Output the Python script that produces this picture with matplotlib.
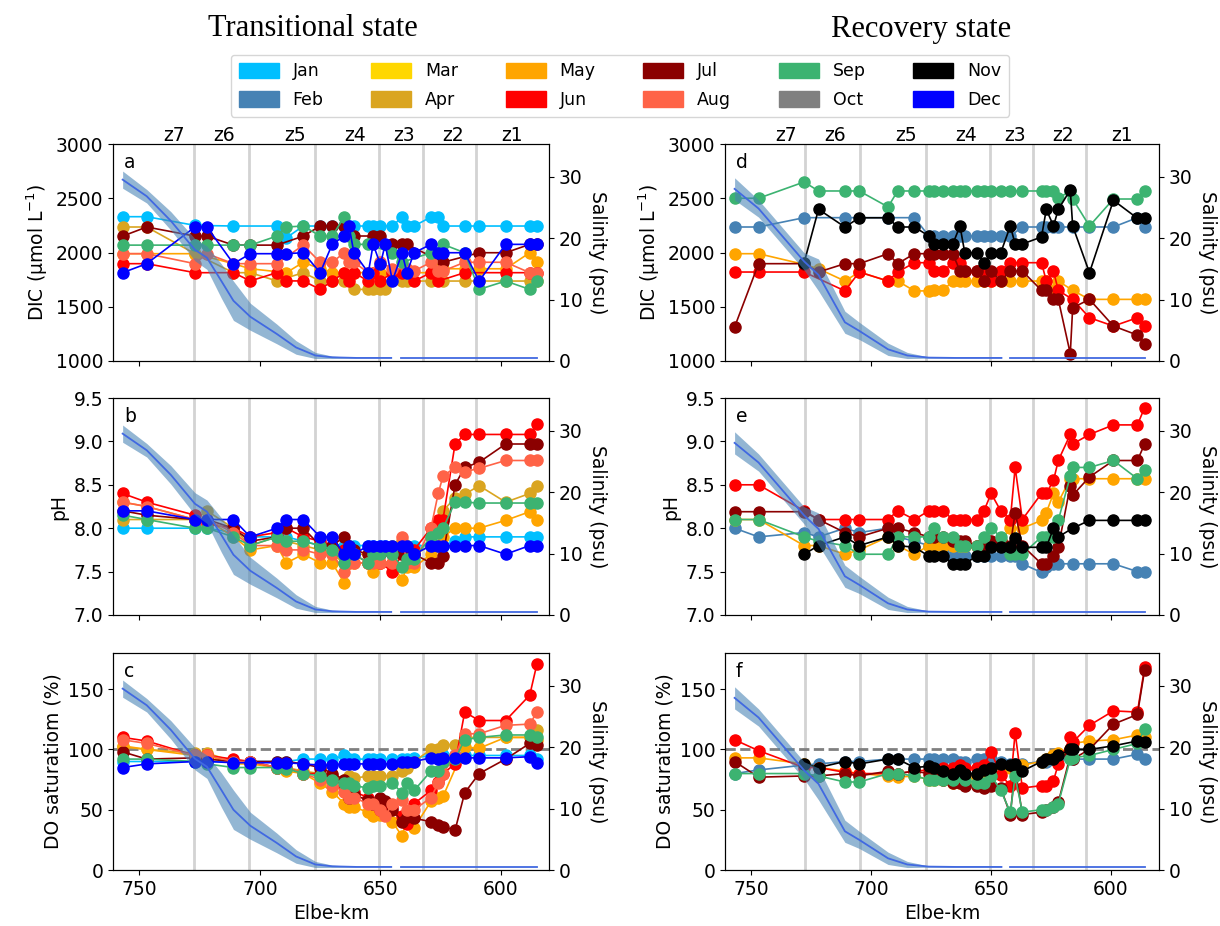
import matplotlib
matplotlib.use("Agg")
import matplotlib.pyplot as plt
from matplotlib.patches import Patch
from matplotlib.transforms import blended_transform_factory
import numpy as np

# ---------------- data ----------------
MONTHS = ['Jan', 'Feb', 'Mar', 'Apr', 'May', 'Jun', 'Jul', 'Aug', 'Sep', 'Oct', 'Nov', 'Dec']
MONTH_COLORS = ['deepskyblue', 'steelblue', 'gold', 'goldenrod', 'orange', 'red',
                'darkred', 'tomato', 'mediumseagreen', 'gray', 'black', 'blue']

ZONE_BOUNDS = [727.5, 704.5, 677, 650.5, 632.5, 610.5]
ZONE_LABELS = ['z7', 'z6', 'z5', 'z4', 'z3', 'z2', 'z1']
ZONE_LABEL_KM = [735.5, 715, 685.5, 660.3, 640, 620, 595.5]

# Transitional state stations (Elbe-km)
T_KM = [757, 747, 727, 722, 711, 704, 693, 689, 682, 675, 670, 665, 663, 661, 655, 653,
        650, 648, 645, 641, 639, 636, 629, 626, 624, 619, 615, 609, 598, 588, 585]

T_DIC = {
    'Jan': [2330, 2330, 2250, None, 2244, None, 2244, 2136, 2244, 2244, 2244, 2244, 2244, 2244, 2244, 2244,
            2244, None, 2244, 2327, 2244, 2244, 2327, 2327, 2244, None, 2244, 2244, 2244, 2244, 2244],
    'Apr': [2235, 2235, 1989, None, 1814, 1814, 1738, None, 1814, 1738, 1737, 1737, None, 1660, 1660, 1660,
            1660, 1660, None, 1737, 1737, None, 1737, None, 1737, None, 1737, 1737, 1737, 1737, 1737],
    'May': [1989, 1989, 1989, None, 1897, 1850, None, 1814, 1910, 1850, 1814, 1814, None, 1814, 1814, None,
            1814, None, 1814, 1814, None, None, 1814, 1850, 1850, None, 1850, 1850, 1850, 1998, 1910],
    'Jun': [1897, 1897, 1814, None, 1814, 1738, 1814, 1738, 1738, 1660, 1737, 1814, 1737, 1814, 1737, 1814,
            1737, None, 1814, 1814, None, 1737, 1814, 1737, None, None, 1814, None, 1814, 1814, 1814],
    'Jul': [2151, 2235, 2151, 2151, 2068, 2068, 2068, None, 2151, 2244, 2244, 2244, None, 2152, None, 2152,
            2152, None, 2075, 2075, 2075, None, None, None, 1910, None, None, 1998, 1998, 2075, 2075],
    'Aug': [1989, 1989, 1897, 1989, 1897, 1897, 1897, None, 2068, 1910, 1910, 1998, 1910, 1910, 1814, None,
            1910, None, 1850, None, 1850, 1830, 1910, 1830, 1830, None, 1910, 1910, 1910, 1814, 1814],
    'Sep': [2068, 2068, 2068, 2068, 2068, 2068, 2151, 2235, 2244, 2152, 2152, 2327, 2152, 2075, 2075, None,
            None, None, 1998, 1910, None, None, 1998, None, 2075, None, 1998, 1660, 1737, 1660, 1737],
    'Dec': [1814, 1897, 2235, 2235, 1897, 1989, 1989, 1989, 1998, 1814, 2075, 2152, 2244, 1998, 1814, 2075,
            1890, 2075, 1737, 1998, 1814, 1998, 2075, 1998, 1998, None, 1998, 1737, 2075, 2075, 2075],
}

T_PH = {
    'Jan': [8.0, 8.0, 8.0, 8.0, 7.95, 7.9, 7.9, 7.9, 7.85, 7.8, 7.8, 7.8, 7.8, 7.8, 7.8, 7.8,
            7.8, 7.8, 7.8, 7.8, 7.8, 7.8, 7.8, 7.8, 7.8, 7.85, 7.9, 7.9, 7.9, 7.9, 7.9],
    'Apr': [8.1, 8.1, 8.1, 8.2, 8.0, 7.8, 7.9, 7.85, 7.8, 7.75, 7.7, 7.6, 7.65, 7.7, 7.7, 7.7,
            7.7, None, 7.8, 7.85, 7.8, 7.7, 7.8, 8.0, 8.2, 8.35, 8.39, 8.49, 8.3, 8.4, 8.49],
    'May': [8.3, 8.25, 8.1, 8.1, 7.9, 7.75, 7.8, 7.6, 7.7, 7.6, 7.6, 7.37, 7.6, 7.6, 7.6, 7.5,
            7.6, None, 7.6, 7.4, 7.55, 7.55, 7.7, 7.8, 7.9, 8.0, 8.0, 8.0, 8.09, 8.19, 8.09],
    'Jun': [8.4, 8.3, 8.15, 8.05, 8.0, 7.9, 7.95, 8.0, 7.9, 7.85, 7.8, 7.75, 7.7, 7.7, 7.6, 7.65,
            7.6, None, 7.5, 7.7, 7.7, 7.75, 8.0, 8.1, 8.1, 8.97, 9.08, 9.08, 9.08, 9.08, 9.2],
    'Jul': [8.2, 8.15, 8.1, 8.1, 8.0, 7.85, 7.9, 8.0, 8.0, 7.8, 7.8, 7.9, 7.8, 7.75, 7.7, 7.7,
            7.7, None, 7.7, 7.7, 7.7, 7.7, 7.6, 7.6, 7.68, 8.5, 8.7, 8.76, 8.97, 8.97, 8.97],
    'Aug': [8.3, 8.25, 8.1, 8.1, 7.95, 7.8, 7.8, 7.75, 7.75, 7.7, 7.7, 7.5, 7.6, 7.6, 7.6, 7.6,
            7.6, None, 7.6, 7.9, 7.6, 7.6, 8.0, 8.4, 8.6, 8.7, 8.65, 8.69, 8.78, 8.78, 8.78],
    'Sep': [8.15, 8.1, 8.0, 8.0, 7.9, 7.8, 7.9, 7.85, 7.85, 7.8, 7.75, 7.6, 7.7, 7.7, 7.6, 7.7,
            7.7, None, 7.7, 7.55, 7.65, 7.65, 7.9, 7.95, 8.0, 8.3, 8.3, 8.29, 8.29, 8.29, 8.29],
    'Dec': [8.2, 8.2, 8.1, 8.1, 8.1, 7.9, 8.0, 8.1, 8.1, 7.9, 7.9, 7.7, 7.8, 7.7, 7.8, 7.8,
            7.8, 7.8, 7.8, 7.8, 7.8, 7.7, 7.8, 7.8, 7.8, 7.8, 7.8, 7.8, 7.7, 7.8, 7.8],
}

T_DO = {
    'Jan': [90, 90, 90, 90, 90, 90, 90, 90, 92, 92, 92, 95, 92, 92, 92, 92,
            92, None, 92, 92, 92, 93, 95, 95, 95, 95, 95, 95, 95, 95, 92],
    'Apr': [102, 100, 97, 97, 90, 90, 85, 85, 82, 80, 78, 75, 78, 76, 78, 78,
            78, None, 78, 82, 85, 90, 100, 100, 104, 104, 110, 110, 110, 110, 116],
    'May': [103, 100, 95, 95, 88, 88, 85, 82, 80, 72, 65, 55, 52, 52, 48, 45,
            46, None, 40, 28, 42, 35, 57, 60, 61, None, 102, 101, 110, 110, 108],
    'Jun': [110, 107, 95, 95, 92, 90, 85, 85, 80, 80, 75, 70, 65, 65, 60, 55,
            50, 55, 52, 45, 38, 55, 66, 73, 80, 88, 131, 124, 124, 145, 171],
    'Jul': [98, 92, 93, 92, 90, 90, 90, 90, 88, 85, 80, 75, 60, 62, 58, 55,
            60, 57, 50, 40, 44, 43, 40, 37, 36, 33, 64, 80, 92, 105, 104],
    'Aug': [108, 105, 95, 95, 90, 90, 85, 85, 80, 75, 70, 65, 60, 60, 55, 55,
            50, 45, 55, 58, 50, 50, 60, 72, 80, 95, 113, 113, 120, 121, 131],
    'Sep': [92, 92, 90, 88, 85, 85, 85, 84, 80, 78, 75, 72, 72, 70, 68, 70,
            70, None, 72, 64, 72, 66, 82, 82, 90, 92, 108, 110, 112, 112, 110],
    'Dec': [85, 88, 90, 90, 89, 89, 89, 89, 88, 87, 87, 88, 88, 88, 88, 88,
            88, None, 88, 90, 90, 90, 93, 92, 93, 93, 93, 93, 93, 94, 89],
}

# Recovery state stations (Elbe-km)
R_KM = [757, 747, 728, 722, 711, 705, 693, 689, 682, 676, 674, 670, 666, 663, 661, 656,
        653, 650, 646, 642, 640, 637, 629, 627, 624, 622, 617, 616, 609, 599, 589, 586]

R_DIC = {
    'Feb': [2235, 2235, 2321, None, 2321, None, 2321, None, 2321, 2152, 2152, 2152, 2152, 2152, 2152, 2152,
            2152, 2152, 2152, 2152, None, 2235, 2235, 2235, 2235, 2235, None, 2235, 2235, 2235, 2321, 2235],
    'May': [1989, 1989, 1890, 1850, 1737, 1820, 1737, 1737, 1646, 1646, 1651, 1651, 1737, 1737, 1737, 1737,
            1737, 1737, 1737, 1737, None, 1737, 1737, 1737, 1651, 1737, None, 1651, 1568, 1568, 1568, 1568],
    'Jun': [1820, 1820, 1820, None, 1646, 1820, 1737, 1820, 1906, 1906, 1829, 1829, 1906, 1906, 1829, 1829,
            1829, 1737, 1829, 1906, None, 1906, 1906, 1737, 1829, 1650, None, 1568, 1399, 1322, 1399, 1322],
    'Jul': [1313, 1897, 1897, 1820, 1897, 1897, 1989, 1897, 1989, 1989, 1989, 1989, 1989, 1829, 1829, 1829,
            1737, 1829, 1737, 1829, None, 1829, 1651, 1651, 1568, 1568, 1068, 1491, 1568, 1322, 1239, 1159],
    'Sep': [2500, 2500, 2650, 2567, 2567, 2567, 2420, 2567, 2567, 2567, 2567, 2567, 2567, 2567, 2567, 2567,
            2567, 2567, 2567, 2567, None, 2567, 2567, 2567, 2567, 2500, 2567, 2493, 2244, 2493, 2493, 2567],
    'Nov': [None, None, 1906, 2398, 2235, 2320, 2320, 2235, 2235, 2152, 2078, 2078, 2078, 2244, 1998, 1998,
            1906, 1998, 1998, 2244, 2078, 2078, 2143, 2398, 2244, 2398, 2576, 2244, 1814, 2481, 2315, 2315],
}

R_PH = {
    'Feb': [8.0, 7.9, 7.95, 7.9, 8.0, 7.95, 8.0, 7.9, 7.85, 7.8, 7.8, 7.75, 7.68, 7.68, 7.68, 7.68,
            7.68, 7.68, 7.68, 7.68, 7.68, 7.59, 7.49, 7.55, 7.59, 7.59, None, 7.59, 7.59, 7.59, 7.5, 7.5],
    'May': [8.1, 8.1, 7.8, 7.8, 7.7, 7.75, 7.9, 7.8, 7.7, 7.8, 7.8, 7.8, 7.8, 7.8, 7.8, 7.8,
            7.8, 7.8, 7.85, 8.0, None, 8.0, 8.09, 8.18, 8.4, 8.3, 8.57, 8.57, 8.57, 8.57, 8.57, 8.57],
    'Jun': [8.5, 8.5, 8.2, 8.1, 8.1, 8.1, 8.1, 8.2, 8.1, 8.2, 8.2, 8.2, 8.1, 8.1, 8.1, 8.1,
            8.2, 8.4, 8.2, 8.1, 8.7, 8.1, 8.4, 8.4, 8.55, 8.78, 9.08, 8.97, 9.08, 9.19, 9.19, 9.39],
    'Jul': [8.19, 8.19, 8.19, 8.1, 7.95, 7.9, 8.0, 8.0, 7.95, 7.9, 7.9, 7.9, 7.85, 7.85, 7.85, 7.8,
            7.8, 7.85, 7.85, 7.8, 8.18, 7.8, 7.59, 7.59, 7.68, 7.78, 8.49, 8.38, 8.59, 8.78, 8.78, 8.97],
    'Sep': [8.1, 8.1, 7.9, 7.85, 7.8, 7.7, 7.7, 7.9, 7.9, 7.9, 8.0, 7.9, 7.9, 7.8, 7.8, 7.8,
            7.9, 8.0, 7.9, 7.7, 7.7, 7.7, 7.9, 7.9, 7.9, 8.09, 8.6, 8.7, 8.7, 8.78, 8.57, 8.67],
    'Nov': [None, None, 7.7, 7.8, 7.9, 7.8, 7.9, 7.8, 7.78, 7.68, 7.68, 7.68, 7.59, 7.59, 7.59, 7.68,
            7.68, 7.78, 7.78, 7.78, 7.89, 7.78, 7.78, 7.78, 8.0, 7.9, None, 8.0, 8.09, 8.09, 8.09, 8.09],
}

R_DO = {
    'Feb': [80, 83, 87, 88, 90, 90, 92, 92, 92, 92, 92, 92, 92, 90, 90, 92,
            92, 92, 90, 88, 88, 88, 90, 90, 92, 92, None, 92, 92, 92, 96, 92],
    'May': [93, 93, 88, 85, 82, 80, 78, 77, 78, 75, 75, 75, 72, 72, 73, 78,
            78, 80, 87, 85, 85, 87, 90, 92, 95, 97, 100, 105, 107, 108, 112, 110],
    'Jun': [108, 99, 85, 85, 81, 80, 80, 80, 82, 83, 83, 85, 85, 87, 85, 85,
            87, 98, 79, 70, 114, 68, 70, 70, 74, 88, 110, 106, 120, 132, 131, 168],
    'Jul': [90, 77, 78, 78, 80, 78, 82, 80, 82, 80, 78, 75, 72, 72, 70, 70,
            68, 70, 68, 46, 85, 46, 48, 50, 52, 56, 95, 92, 100, 121, 129, 166],
    'Sep': [80, 80, 80, 78, 73, 73, 80, 80, 78, 75, 75, 75, 75, 78, 75, 72,
            72, 78, 66, 48, 78, 48, 50, 50, 52, 55, 92, 93, 95, 100, 105, 117],
    'Nov': [None, None, 88, 85, 90, 88, 92, 92, 85, 86, 85, 82, 80, 83, 80, 80,
            83, 85, 88, 87, 88, 82, 90, 92, 92, 95, 100, 100, 100, 103, 107, 106],
}

# Salinity (mean and spread) along the estuary
SAL_T_KM = [757, 747, 737, 727, 722, 716, 711, 704, 693, 685, 677, 670, 660, 645.5]
SAL_T = [29.5, 26.8, 22.8, 18.1, 16.8, 13.0, 9.8, 7.2, 4.4, 2.2, 0.9, 0.6, 0.5, 0.5]
SAL_T_SD = [1.4, 1.1, 1.5, 1.8, 1.9, 2.8, 3.2, 2.2, 1.6, 1.1, 0.5, 0.2, 0.05, 0.05]
SAL_T_KM2 = [641.3, 585]
SAL_T2 = [0.5, 0.5]

SAL_R_KM = [757, 747, 728, 722, 711, 705, 693, 685, 676, 665, 645.7]
SAL_R = [28.0, 24.8, 16.2, 14.0, 6.3, 4.9, 1.9, 0.9, 0.55, 0.5, 0.5]
SAL_R_SD = [1.8, 1.4, 1.4, 2.6, 1.8, 1.4, 1.0, 0.5, 0.1, 0.05, 0.05]
SAL_R_KM2 = [642, 586]
SAL_R2 = [0.5, 0.5]

# ---------------- plotting ----------------
plt.rcParams['font.family'] = ['DejaVu Sans']
W, H = 1220, 926
fig = plt.figure(figsize=(W / 100, H / 100), dpi=100)

col_left = [113 / W, 725 / W]
col_width = [436 / W, 434 / W]
row_bottom = [1 - 361 / H, 1 - 615 / H, 1 - 870 / H]
row_height = 217 / H

color_of = dict(zip(MONTHS, MONTH_COLORS))

panels = [
    (0, 0, T_DIC, T_KM, (1000, 3000), [1000, 1500, 2000, 2500, 3000], r'DIC (μmol L$^{-1}$)', 'a'),
    (1, 0, T_PH, T_KM, (7.0, 9.5), [7.0, 7.5, 8.0, 8.5, 9.0, 9.5], 'pH', 'b'),
    (2, 0, T_DO, T_KM, (0, 180), [0, 50, 100, 150], 'DO saturatiom (%)', 'c'),
    (0, 1, R_DIC, R_KM, (1000, 3000), [1000, 1500, 2000, 2500, 3000], r'DIC (μmol L$^{-1}$)', 'd'),
    (1, 1, R_PH, R_KM, (7.0, 9.5), [7.0, 7.5, 8.0, 8.5, 9.0, 9.5], 'pH', 'e'),
    (2, 1, R_DO, R_KM, (0, 180), [0, 50, 100, 150], 'DO saturatiom (%)', 'f'),
]

FS = 13.5
for row, col, data, km, ylim, yticks, ylabel, letter in panels:
    ax = fig.add_axes([col_left[col], row_bottom[row], col_width[col], row_height])
    for b in ZONE_BOUNDS:
        ax.axvline(b, color='lightgray', lw=2, zorder=0)
    if row == 2:
        ax.axhline(100, color='gray', ls='--', lw=2, zorder=0.5)
    for m, vals in data.items():
        xs = [k for k, v in zip(km, vals) if v is not None]
        ys = [v for v in vals if v is not None]
        ax.plot(xs, ys, '-o', color=color_of[m], lw=1.2, ms=8, zorder=2)
    ax.set_xlim(761, 580)
    ax.set_ylim(*ylim)
    ax.set_yticks(yticks)
    if row == 1:
        ax.set_yticklabels([f'{t:.1f}' for t in yticks])
    ax.set_xticks([750, 700, 650, 600])
    ax.tick_params(labelsize=FS)
    ax.set_ylabel(ylabel, fontsize=FS)
    if row == 2:
        ax.set_xlabel('Elbe-km', fontsize=FS)
    else:
        ax.set_xticklabels([])
    ax.text(0.025, 0.96, letter, transform=ax.transAxes, fontsize=FS, va='top', ha='left')
    if row == 0:
        tr = blended_transform_factory(ax.transData, ax.transAxes)
        for lab, x in zip(ZONE_LABELS, ZONE_LABEL_KM):
            ax.text(x, 0.995, lab, transform=tr, ha='center', va='bottom', fontsize=FS)

    ax2 = ax.twinx()
    if col == 0:
        skm, s, sd, skm2, s2 = SAL_T_KM, SAL_T, SAL_T_SD, SAL_T_KM2, SAL_T2
    else:
        skm, s, sd, skm2, s2 = SAL_R_KM, SAL_R, SAL_R_SD, SAL_R_KM2, SAL_R2
    s_arr = np.array(s)
    sd_arr = np.array(sd)
    ax2.fill_between(skm, s_arr - sd_arr, s_arr + sd_arr, color='steelblue', alpha=0.58, lw=0)
    ax2.plot(skm, s, color='royalblue', lw=1.3)
    ax2.plot(skm2, s2, color='royalblue', lw=1.3)
    ax2.set_ylim(0, 35.3)
    ax2.set_yticks([0, 10, 20, 30])
    ax2.set_xlim(761, 580)
    ax2.tick_params(labelsize=FS)
    ax2.set_ylabel('Salinity (psu)', fontsize=FS, rotation=270, labelpad=18)

# titles
fig.text(313 / W, 1 - 29 / H, 'Transitional state', ha='center', va='center',
         fontsize=22, family='Liberation Serif')
fig.text(921 / W, 1 - 29 / H, 'Recovery state', ha='center', va='center',
         fontsize=22, family='Liberation Serif')

handles = [Patch(facecolor=c, edgecolor=c, label=m) for m, c in zip(MONTHS, MONTH_COLORS)]
fig.legend(handles=handles, ncol=6, loc='upper center', bbox_to_anchor=(620 / W, 1 - 46 / H),
           fontsize=12.5, handlelength=2.3, handleheight=1.0, columnspacing=2.75,
           labelspacing=0.6, frameon=True, borderpad=0.45)

fig.savefig('out.png', dpi=100)
